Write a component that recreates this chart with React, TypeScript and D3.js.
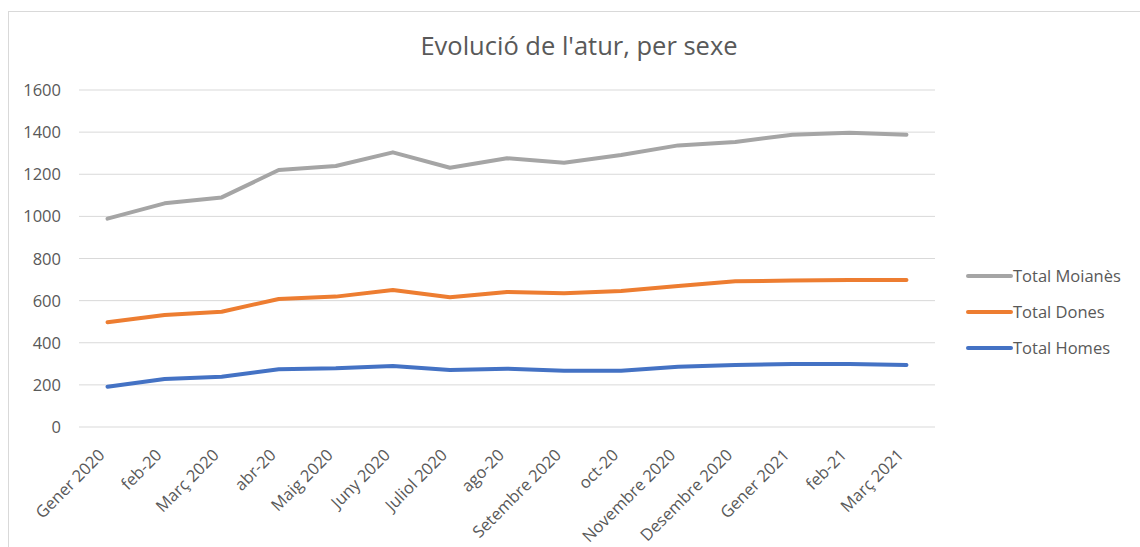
import React from "react";
import * as d3 from "d3";

const categories = [
  "Gener 2020", "feb-20", "Març 2020", "abr-20", "Maig 2020", "Juny 2020", "Juliol 2020",
  "ago-20", "Setembre 2020", "oct-20", "Novembre 2020", "Desembre 2020", "Gener 2021",
  "feb-21", "Març 2021",
];
const totalMoianes = [989, 1062, 1090, 1220, 1239, 1304, 1231, 1276, 1255, 1291, 1337, 1353, 1388, 1397, 1388];
const totalDones = [497, 532, 547, 608, 619, 650, 616, 641, 635, 646, 669, 692, 695, 698, 698];
const totalHomes = [191, 228, 239, 274, 279, 290, 271, 277, 267, 267, 286, 294, 299, 299, 294];
const yTicks = [0, 200, 400, 600, 800, 1000, 1200, 1400, 1600];
const seriesNames = ["Total Moianès", "Total Dones", "Total Homes"];
const title = "Evolució de l'atur, per sexe";

const colors = ["#A5A5A5", "#ED7D31", "#4472C4"];
const FONT = "'Open Sans', 'Noto Sans', sans-serif";

export default function App() {
  const W = 1140, H = 547;
  const left = 79, right = 935, top = 90, bottom = 427;
  const x = d3.scaleBand<string>().domain(categories).range([left, right]);
  const y = d3.scaleLinear().domain([0, 1600]).range([bottom, top]);
  const cx = (c: string) => (x(c) as number) + x.bandwidth() / 2;
  const line = d3.line<number>().x((_, i) => cx(categories[i])).y((v) => y(v));
  const series = [totalMoianes, totalDones, totalHomes];
  const legendY = [276, 312, 348];

  return (
    <svg width={W} height={H} style={{ position: "absolute", left: 0, top: 0 }} fontFamily={FONT}>
      <rect x={0} y={0} width={W} height={H} fill="#fff" />
      <rect x={8.5} y={11.5} width={1200} height={600} fill="#fff" stroke="#D9D9D9" strokeWidth={1} />
      <text x={579} y={55} textAnchor="middle" fontSize={25.5} fill="#595959">{title}</text>
      {yTicks.map((t) => (
        <g key={t}>
          <line x1={left} x2={right} y1={y(t)} y2={y(t)} stroke="#D9D9D9" strokeWidth={1} />
          <text x={61} y={y(t) + 6} textAnchor="end" fontSize={16.5} fill="#595959">{t}</text>
        </g>
      ))}
      {categories.map((c) => (
        <text key={c} transform={`translate(${cx(c) - 12},${446}) rotate(-45)`} textAnchor="end"
          dominantBaseline="hanging" fontSize={16.5} fill="#595959">{c}</text>
      ))}
      {series.map((s, i) => (
        <path key={i} d={line(s) || ""} fill="none" stroke={colors[i]} strokeWidth={4}
          strokeLinecap="round" strokeLinejoin="round" />
      ))}
      {seriesNames.map((n, i) => (
        <g key={n}>
          <line x1={968} x2={1011} y1={legendY[i]} y2={legendY[i]} stroke={colors[i]} strokeWidth={4} strokeLinecap="round" />
          <text x={1013} y={legendY[i] + 6} fontSize={16.5} fill="#595959">{n}</text>
        </g>
      ))}
    </svg>
  );
}
